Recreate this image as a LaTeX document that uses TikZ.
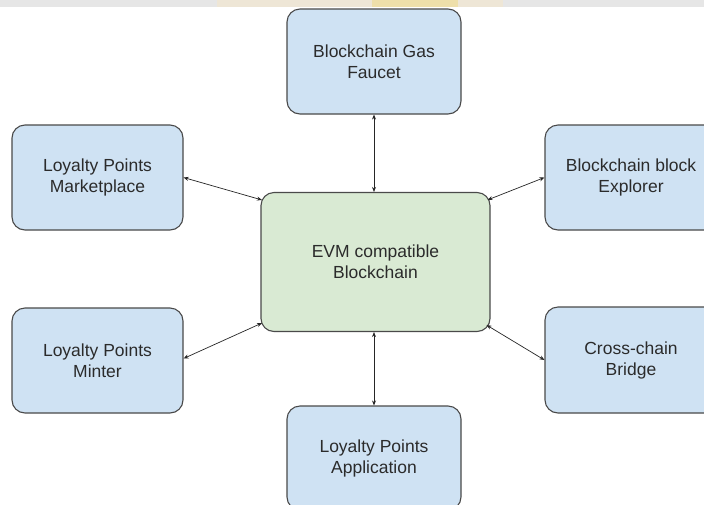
\documentclass[tikz,border=0pt]{standalone}
\usepackage{fontspec}
\setmainfont{Liberation Sans}
\usetikzlibrary{arrows.meta,calc}
\definecolor{boxblue}{HTML}{CFE2F3}
\definecolor{boxgreen}{HTML}{D9EAD3}
\definecolor{boxline}{HTML}{4A4A4A}
\definecolor{txt}{HTML}{2B2B2B}
\definecolor{bandgrey}{HTML}{E6E6E6}
\definecolor{bandbeige}{HTML}{EEE6D6}
\definecolor{bandyellow}{HTML}{EEDFAA}
\tikzset{
  box/.style={draw=boxline, line width=1.1pt, rounded corners=13pt, fill=boxblue,
    text=txt, align=center, inner sep=0pt,
    font=\fontsize{17.5}{21}\selectfont},
  mainbox/.style={box, fill=boxgreen},
  link/.style={line width=0.7pt, draw=black!85, {Stealth[length=5pt,width=4pt]}-{Stealth[length=5pt,width=4pt]}}
}
\begin{document}
\begin{tikzpicture}[x=1pt,y=-1pt]
\useasboundingbox (0,0) rectangle (704,504);
\fill[white] (0,0) rectangle (704,504);
% faint band at the top
\fill[bandgrey] (0,0) rectangle (704,7);
\fill[bandbeige] (217,0) rectangle (503,7);
\fill[bandyellow] (372,0) rectangle (458,7);

\node[box, minimum width=174pt, minimum height=105pt] (gas) at (374,61.5) {Blockchain Gas\\Faucet};
\node[box, minimum width=171pt, minimum height=105pt] (mkt) at (97.5,177.5) {Loyalty Points\\Marketplace};
\node[box, minimum width=172pt, minimum height=105pt] (exp) at (631,177.5) {Blockchain block\\Explorer};
\node[mainbox, minimum width=229pt, minimum height=139pt] (evm) at (375.5,262) {EVM compatible\\Blockchain};
\node[box, minimum width=171pt, minimum height=105pt] (mint) at (97.5,360.5) {Loyalty Points\\Minter};
\node[box, minimum width=172pt, minimum height=106pt] (bridge) at (631,360) {Cross-chain\\Bridge};
\node[box, minimum width=174pt, minimum height=104pt] (app) at (374,458) {Loyalty Points\\Application};

\coordinate (evmNW) at ($(evm.north west)+(1.5,8)$);
\coordinate (evmNE) at ($(evm.north east)+(-3,8)$);
\coordinate (evmSW) at ($(evm.south west)+(1.5,-9)$);
\coordinate (evmSE) at ($(evm.south east)+(-4,-7)$);

\draw[link] (gas.south) -- (gas.south |- evm.north);
\draw[link] (app.north) -- (app.north |- evm.south);
\draw[link] (mkt.east) -- (evmNW);
\draw[link] (evmNE) -- (exp.west);
\draw[link] ($(mint.east)+(0,-2)$) -- (evmSW);
\draw[link] (evmSE) -- (bridge.west);
\end{tikzpicture}
\end{document}
